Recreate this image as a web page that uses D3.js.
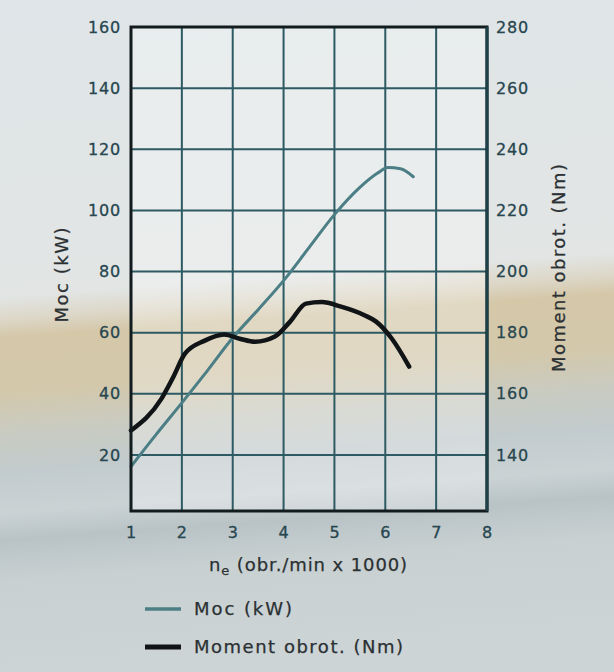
<!DOCTYPE html>
<html>
<head>
<meta charset="utf-8">
<script src="https://cdn.jsdelivr.net/npm/d3@7"></script>
<style>
    body { margin: 0; }
    svg { display: block; font-family: "DejaVu Sans", Arial, sans-serif; }
</style>
</head>
<body>
<svg id="chart"></svg>
<script>
// engine speed (x1000 rpm) vs power / torque
const rpm = [1.0, 1.5, 2.0, 2.5, 3.0, 3.5, 4.0, 4.5, 5.0, 5.5, 5.85, 6.05, 6.3, 6.55];
const power = [16.2, 26.8, 37.0, 47.5, 58.3, 67.5, 77.0, 87.8, 98.6, 107.5, 112.2, 114.0, 113.6, 111.0];

const torqueRpm = [1.0, 1.6, 1.83, 2.06, 2.44, 2.83, 3.14, 3.44, 3.83, 4.13, 4.44, 4.75, 5.13, 5.59, 5.82, 6.13, 6.47];
const torque = [148.0, 158.4, 165.4, 173.1, 177.3, 179.4, 178.0, 177.0, 178.7, 183.6, 189.5, 190.0, 188.5, 185.7, 183.6, 178.0, 168.9];

const xTicks = [1, 2, 3, 4, 5, 6, 7, 8];
const powerTicks = [20, 40, 60, 80, 100, 120, 140, 160];
const torqueTicks = [140, 160, 180, 200, 220, 240, 260, 280];

const legendItems = ["Moc (kW)", "Moment obrot. (Nm)"];

const width = 614, height = 672;
const plot = { left: 131, right: 487, top: 27, bottom: 511 };

const svg = d3.select("#chart").attr("width", width).attr("height", height);

// photo-like backdrop, bands slightly tilted
const defs = svg.append("defs");
const grad = defs.append("linearGradient")
    .attr("id", "bg")
    .attr("gradientUnits", "userSpaceOnUse")
    .attr("x1", 0).attr("y1", 0).attr("x2", 49).attr("y2", 672);
[
    [0, "#dfe5e8"], [0.44, "#e2e5e4"], [0.475, "#dcd6c6"], [0.5, "#d5c8a9"],
    [0.58, "#d3c8ab"], [0.64, "#c9cbc1"], [0.7, "#c2cbcd"], [0.76, "#cad2d4"],
    [0.8, "#b9c3c6"], [0.86, "#c8d0d1"], [1, "#ccd4d5"]
].forEach(([o, c]) => grad.append("stop").attr("offset", o).attr("stop-color", c));

svg.append("rect").attr("width", width).attr("height", height).attr("fill", "url(#bg)");

const x = d3.scaleLinear().domain([1, 8]).range([plot.left, plot.right]);
const yPower = d3.scaleLinear().domain([0, 160]).range([516, plot.top]);
const yTorque = d3.scaleLinear().domain([120, 280]).range([516, plot.top]);

svg.append("rect")
    .attr("x", x(1)).attr("y", yPower(160))
    .attr("width", x(8) - x(1)).attr("height", plot.bottom - yPower(160))
    .attr("fill", "#ffffff").attr("opacity", 0.3);

// grid
const grid = svg.append("g").attr("stroke", "#2d5a63").attr("stroke-width", 2);
grid.selectAll("line.h")
    .data(powerTicks.filter(d => d < 160))
    .join("line")
    .attr("class", "h")
    .attr("x1", x(1)).attr("x2", x(8))
    .attr("y1", d => yPower(d)).attr("y2", d => yPower(d));
grid.selectAll("line.v")
    .data(xTicks.filter(d => d > 1 && d < 8))
    .join("line")
    .attr("class", "v")
    .attr("y1", yPower(160)).attr("y2", plot.bottom)
    .attr("x1", d => x(d)).attr("x2", d => x(d));

// curves
const powerLine = d3.line()
    .x((d, i) => x(rpm[i]))
    .y(d => yPower(d))
    .curve(d3.curveMonotoneX);
const torqueLine = d3.line()
    .x((d, i) => x(torqueRpm[i]))
    .y(d => yTorque(d))
    .curve(d3.curveMonotoneX);

svg.append("path")
    .attr("d", powerLine(power))
    .attr("fill", "none")
    .attr("stroke", "#4b7e85")
    .attr("stroke-width", 3)
    .attr("stroke-linecap", "round");

svg.append("path")
    .attr("d", torqueLine(torque))
    .attr("fill", "none")
    .attr("stroke", "#111416")
    .attr("stroke-width", 4.5)
    .attr("stroke-linecap", "round");

// frame
svg.append("rect")
    .attr("x", x(1)).attr("y", yPower(160))
    .attr("width", x(8) - x(1)).attr("height", plot.bottom - yPower(160))
    .attr("fill", "none")
    .attr("stroke", "#121c1f")
    .attr("stroke-width", 3);
svg.append("line")
    .attr("x1", x(8)).attr("x2", x(8))
    .attr("y1", yPower(160)).attr("y2", plot.bottom)
    .attr("stroke", "#1d4149").attr("stroke-width", 3);

// axes
const styleAxis = g => {
    g.select(".domain").remove();
    g.selectAll("text")
        .attr("fill", "#27464f")
        .attr("font-size", 16)
        .attr("letter-spacing", 0.8)
        .attr("stroke", "#27464f")
        .attr("stroke-width", 0.3)
        .attr("font-family", "\"DejaVu Sans\", Arial, sans-serif");
};

svg.append("g")
    .attr("transform", `translate(${x(1)},0)`)
    .call(d3.axisLeft(yPower).tickValues(powerTicks).tickSize(0).tickPadding(10))
    .call(styleAxis);

svg.append("g")
    .attr("transform", `translate(${x(8)},0)`)
    .call(d3.axisRight(yTorque).tickValues(torqueTicks).tickSize(0).tickPadding(9))
    .call(styleAxis);

svg.append("g")
    .attr("transform", `translate(0,${plot.bottom})`)
    .call(d3.axisBottom(x).tickValues(xTicks).tickFormat(d3.format("d")).tickSize(0).tickPadding(16))
    .call(styleAxis);

// axis titles
const titleText = sel => sel
    .attr("font-size", 18)
    .attr("lengthAdjust", "spacing")
    .attr("fill", "#2b3033")
    .attr("stroke", "#2b3033")
    .attr("stroke-width", 0.25);

svg.append("text")
    .attr("transform", `translate(62,275) rotate(-90)`)
    .attr("text-anchor", "middle")
    .attr("dy", "0.35em")
    .attr("textLength", 95)
    .call(titleText)
    .text("Moc (kW)");

svg.append("text")
    .attr("transform", `translate(559,268) rotate(-90)`)
    .attr("text-anchor", "middle")
    .attr("dy", "0.35em")
    .attr("textLength", 208)
    .call(titleText)
    .text("Moment obrot. (Nm)");

const xTitle = svg.append("text")
    .attr("x", 209).attr("y", 571)
    .attr("letter-spacing", 0.9)
    .call(titleText);
xTitle.append("tspan").text("n");
xTitle.append("tspan").attr("font-size", 13).attr("dy", 4).text("e");
xTitle.append("tspan").attr("dy", -4).text(" (obr./min x 1000)");

// legend
const legend = svg.append("g").attr("transform", "translate(145,609)");
legend.selectAll("g")
    .data(legendItems)
    .join("g")
    .attr("transform", (d, i) => `translate(0,${i * 38})`)
    .each(function (d, i) {
        const g = d3.select(this);
        g.append("line")
            .attr("x1", 0).attr("x2", 36)
            .attr("stroke", i === 0 ? "#4b7e85" : "#111416")
            .attr("stroke-width", i === 0 ? 3.5 : 5);
        g.append("text")
            .attr("x", 49).attr("dy", "0.35em")
            .attr("textLength", i === 0 ? 98 : 209)
            .call(titleText)
            .text(d);
    });
</script>
</body>
</html>
